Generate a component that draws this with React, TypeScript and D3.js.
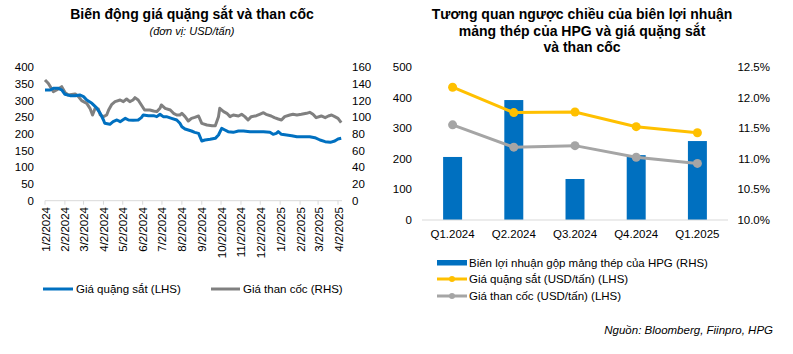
import React from "react";
import * as d3 from "d3";

const W = 793, H = 354;
const FONT = "'Liberation Sans', Arial, sans-serif";

// ---- left chart data ----
const oreDates = [
  "2024-01-02","2024-01-10","2024-01-15","2024-01-23","2024-01-28","2024-02-02","2024-02-10","2024-02-18",
  "2024-02-25","2024-03-02","2024-03-07","2024-03-15","2024-03-22","2024-03-28","2024-04-02","2024-04-04",
  "2024-04-12","2024-04-17","2024-04-23","2024-04-28","2024-05-06","2024-05-11","2024-05-18","2024-05-26",
  "2024-05-31","2024-06-03","2024-06-11","2024-06-19","2024-06-24","2024-06-29","2024-07-04","2024-07-09",
  "2024-07-17","2024-07-25","2024-07-30","2024-08-02","2024-08-07","2024-08-12","2024-08-17","2024-08-22",
  "2024-08-28","2024-09-02","2024-09-07","2024-09-15","2024-09-23","2024-09-28","2024-10-03","2024-10-08",
  "2024-10-13","2024-10-21","2024-10-29","2024-11-06","2024-11-16","2024-11-26","2024-12-07","2024-12-17",
  "2024-12-22","2024-12-27","2024-12-30","2025-01-04","2025-01-12","2025-01-20","2025-01-28","2025-02-07",
  "2025-02-17","2025-02-25","2025-03-05","2025-03-13","2025-03-21","2025-03-28","2025-04-02","2025-04-07"
];
const oreValues = [
  332, 332, 337, 337, 332, 319, 315, 315,
  317, 312, 302, 292, 279, 262, 242, 232,
  229, 237, 242, 237, 247, 242, 241, 242,
  249, 257, 255, 255, 252, 259, 252, 252,
  247, 242, 232, 222, 215, 212, 209, 205,
  202, 179, 182, 184, 187, 197, 217, 212,
  207, 205, 209, 209, 207, 207, 207, 205,
  199, 202, 207, 199, 197, 195, 192, 192,
  192, 189, 182, 177, 175, 179, 185, 187
];

const coalDates = [
  "2024-01-02","2024-01-07","2024-01-15","2024-01-20","2024-01-28","2024-02-02","2024-02-07","2024-02-18",
  "2024-02-23","2024-02-28","2024-03-07","2024-03-12","2024-03-16","2024-03-20","2024-03-25","2024-03-28",
  "2024-04-02","2024-04-07","2024-04-10","2024-04-15","2024-04-20","2024-04-28","2024-05-03","2024-05-08",
  "2024-05-13","2024-05-18","2024-05-21","2024-05-26","2024-05-31","2024-06-05","2024-06-13","2024-06-19",
  "2024-06-24","2024-06-29","2024-07-01","2024-07-07","2024-07-15","2024-07-20","2024-07-25","2024-07-30",
  "2024-08-02","2024-08-07","2024-08-12","2024-08-17","2024-08-22","2024-08-28","2024-09-02","2024-09-10",
  "2024-09-18","2024-09-23","2024-09-28","2024-09-30","2024-10-06","2024-10-11","2024-10-16","2024-10-21",
  "2024-10-29","2024-11-03","2024-11-08","2024-11-13","2024-11-18","2024-11-26","2024-12-01","2024-12-07",
  "2024-12-11","2024-12-19","2024-12-24","2024-12-30","2025-01-04","2025-01-09","2025-01-17","2025-01-22",
  "2025-01-28","2025-02-04","2025-02-12","2025-02-17","2025-02-22","2025-02-27","2025-03-07","2025-03-13",
  "2025-03-18","2025-03-23","2025-03-28","2025-04-02","2025-04-07"
];
const coalValues = [
  144.8, 140.8, 130.8, 132.8, 136.8, 130, 126.8, 128,
  124.8, 120, 116.8, 110.8, 102.8, 110.8, 110, 102.8,
  100.8, 102.8, 108.8, 115.6, 118.8, 120.8, 118.8, 122,
  118.8, 120.8, 123.6, 120.8, 114.8, 108.8, 108.8, 107.6,
  106.8, 110.8, 114.8, 110.8, 108.8, 104.8, 102.8, 102.8,
  104.8, 100.8, 95.6, 98.8, 100, 101.6, 92.8, 90.8,
  90, 90, 100.8, 110.8, 106.8, 104.8, 100.8, 102.8,
  101.6, 103.6, 100.8, 96.8, 100.8, 102, 103.6, 105.6,
  103.6, 101.6, 99.6, 98, 96.8, 100.8, 102.8, 103.6,
  102.8, 103.6, 104.8, 106, 103.6, 99.6, 101.6, 99.6,
  101.6, 102.8, 100.8, 98.8, 93.6
];

const leftTicksL = [0, 50, 100, 150, 200, 250, 300, 350, 400];
const leftTicksR = [0, 20, 40, 60, 80, 100, 120, 140, 160];

// ---- right chart data ----
const quarters = ["Q1.2024", "Q2.2024", "Q3.2024", "Q4.2024", "Q1.2025"];
const marginPct = [11.03, 11.96, 10.67, 11.06, 11.29];
const orePrice = [434, 351, 353, 305, 285];
const coalPrice = [311, 238, 243, 205, 185];
const rightTicksL = [0, 100, 200, 300, 400, 500];
const rightTicksR = [10, 10.5, 11, 11.5, 12, 12.5];

const BLUE = "#0070C0";
const GREY = "#808080";
const YELLOW = "#FFC000";
const LGREY = "#A5A5A5";
const AXIS = "#D9D9D9";

const parse = d3.timeParse("%Y-%m-%d");

function LeftChart() {
  const x = d3.scaleTime().domain([parse("2024-01-02")!, parse("2025-04-02")!]).range([45, 338]);
  const yL = d3.scaleLinear().domain([0, 400]).range([200.7, 67.3]);
  const yR = d3.scaleLinear().domain([0, 160]).range([200.7, 67.3]);
  const ore = oreDates.map((d, i) => ({ d: parse(d)!, v: oreValues[i] }));
  const coal = coalDates.map((d, i) => ({ d: parse(d)!, v: coalValues[i] }));
  const lineL = d3.line<{ d: Date; v: number }>().x(p => x(p.d)).y(p => yL(p.v));
  const lineR = d3.line<{ d: Date; v: number }>().x(p => x(p.d)).y(p => yR(p.v));
  const months = d3.timeMonth.range(parse("2024-01-01")!, parse("2025-04-02")!).map(m => d3.timeDay.offset(m, 1));
  const fmt = d3.timeFormat("%-m/%-d/%Y");
  return (
    <g fontFamily={FONT}>
      <text x={192} y={19} textAnchor="middle" fontSize={14} fontWeight="bold">Biến động giá quặng sắt và than cốc</text>
      <text x={192} y={35} textAnchor="middle" fontSize={11} fontStyle="italic">(đơn vị: USD/tấn)</text>
      {leftTicksL.map(t => (
        <text key={t} x={34} y={yL(t) + 4} textAnchor="end" fontSize={11.5}>{t}</text>
      ))}
      {leftTicksR.map(t => (
        <text key={t} x={352} y={yR(t) + 4} textAnchor="start" fontSize={11.5}>{t}</text>
      ))}
      <line x1={45} x2={342} y1={yL(0)} y2={yL(0)} stroke={AXIS} />
      {months.map((m, i) => (
        <g key={i}>
          <line x1={x(m)} x2={x(m)} y1={yL(0)} y2={yL(0) + 4} stroke={AXIS} />
          <text transform={`translate(${x(m) + 4.5},207) rotate(-90)`} textAnchor="end" fontSize={11.5}>{fmt(m)}</text>
        </g>
      ))}
      <path d={lineR(coal)!} fill="none" stroke={GREY} strokeWidth={3} strokeLinejoin="round" />
      <path d={lineL(ore)!} fill="none" stroke={BLUE} strokeWidth={3} strokeLinejoin="round" />
      <line x1={43} x2={73} y1={289} y2={289} stroke={BLUE} strokeWidth={3} />
      <text x={76} y={293} fontSize={11.5}>Giá quặng sắt (LHS)</text>
      <line x1={211} x2={240} y1={289} y2={289} stroke={GREY} strokeWidth={3} />
      <text x={243} y={293} fontSize={11.5}>Giá than cốc (RHS)</text>
    </g>
  );
}

function RightChart() {
  const x = d3.scaleBand<string>().domain(quarters).range([422, 728]).paddingInner(0.69).paddingOuter(0.345);
  const yL = d3.scaleLinear().domain([0, 500]).range([220, 67]);
  const yR = d3.scaleLinear().domain([10, 12.5]).range([220, 67]);
  const cx = (q: string) => x(q)! + x.bandwidth() / 2;
  const line = d3.line<number>().x((_, i) => cx(quarters[i])).y(v => yL(v));
  return (
    <g fontFamily={FONT}>
      {["Tương quan ngược chiều của biên lợi nhuận", "mảng thép của HPG và giá quặng sắt", "và than cốc"].map((s, i) => (
        <text key={i} x={582} y={19 + i * 16.5} textAnchor="middle" fontSize={14} fontWeight="bold">{s}</text>
      ))}
      {rightTicksL.map(t => (
        <text key={t} x={412} y={yL(t) + 4} textAnchor="end" fontSize={11.5}>{t}</text>
      ))}
      {rightTicksR.map(t => (
        <text key={t} x={770} y={yR(t) + 4} textAnchor="end" fontSize={11.5}>{d3.format(".1f")(t)}%</text>
      ))}
      {quarters.map((q, i) => (
        <rect key={q} x={x(q)} y={yR(marginPct[i])} width={x.bandwidth()} height={yR(10) - yR(marginPct[i])} fill={BLUE} />
      ))}
      <line x1={422} x2={728} y1={220} y2={220} stroke={AXIS} />
      {quarters.map(q => (
        <text key={q} x={cx(q)} y={238} textAnchor="middle" fontSize={11.5}>{q}</text>
      ))}
      <path d={line(coalPrice)!} fill="none" stroke={LGREY} strokeWidth={3} />
      {coalPrice.map((v, i) => <circle key={i} cx={cx(quarters[i])} cy={yL(v)} r={4.5} fill={LGREY} />)}
      <path d={line(orePrice)!} fill="none" stroke={YELLOW} strokeWidth={3} />
      {orePrice.map((v, i) => <circle key={i} cx={cx(quarters[i])} cy={yL(v)} r={4.5} fill={YELLOW} />)}

      <rect x={437} y={260} width={30} height={5.5} fill={BLUE} />
      <text x={469} y={267} fontSize={11.5}>Biên lợi nhuận gộp mảng thép của HPG (RHS)</text>
      <line x1={437} x2={467} y1={279} y2={279} stroke={YELLOW} strokeWidth={3} />
      <circle cx={452} cy={279} r={3} fill={YELLOW} />
      <text x={469} y={283} fontSize={11.5}>Giá quặng sắt (USD/tấn) (LHS)</text>
      <line x1={437} x2={467} y1={296} y2={296} stroke={LGREY} strokeWidth={3} />
      <circle cx={452} cy={296} r={3} fill={LGREY} />
      <text x={469} y={300} fontSize={11.5}>Giá than cốc (USD/tấn) (LHS)</text>

      <text x={773} y={334} textAnchor="end" fontSize={11.5} fontStyle="italic">Nguồn: Bloomberg, Fiinpro, HPG</text>
    </g>
  );
}

export default function App() {
  return (
    <svg width={W} height={H} style={{ position: "absolute", left: 0, top: 0, background: "#fff" }}>
      <LeftChart />
      <RightChart />
    </svg>
  );
}
